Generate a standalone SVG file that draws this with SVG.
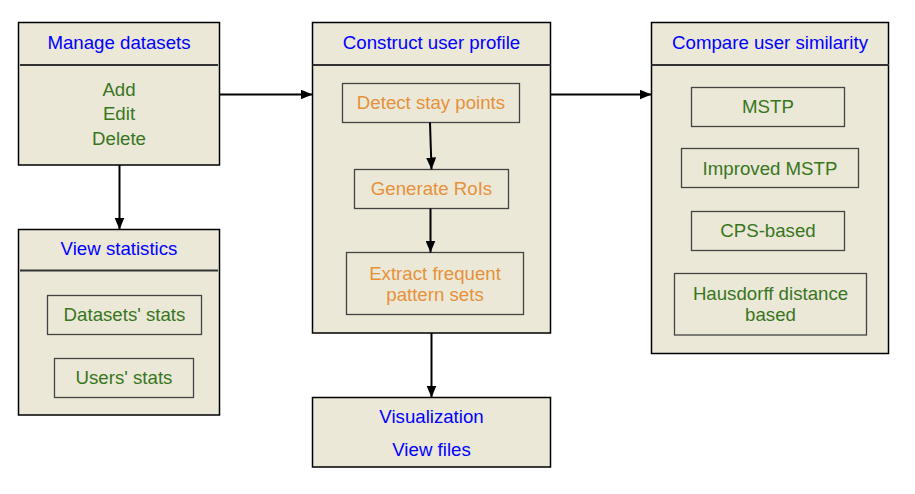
<svg xmlns="http://www.w3.org/2000/svg" width="915" height="494" viewBox="0 0 915 494">
<defs>
<marker id="ah" markerWidth="12" markerHeight="10" refX="12" refY="5" orient="auto" markerUnits="userSpaceOnUse">
<path d="M0,0 L12,5 L0,10 Z" fill="#000"/>
</marker>
<style>
.box{fill:#ebe8d8;stroke:#000;stroke-width:1.5}
.sub{fill:none;stroke:#434343;stroke-width:1.3}
.div{stroke:#333;stroke-width:2}
text{font-family:"Liberation Sans",Arial,sans-serif;font-size:18.67px;text-anchor:middle}
.b{fill:#0000ff}
.g{fill:#38761d}
.o{fill:#e69138}
.c{stroke:#000;stroke-width:2;fill:none;marker-end:url(#ah)}
</style>
</defs>
<rect width="915" height="494" fill="#fff"/>
<g id="manage">
<rect class="box" x="18.5" y="22.5" width="201" height="142.5"/>
<line class="div" x1="20" y1="65" x2="218" y2="65"/>
<text class="b" x="119" y="49">Manage datasets</text>
<text class="g" x="119" y="95.5">Add</text>
<text class="g" x="119" y="120">Edit</text>
<text class="g" x="119" y="144.5">Delete</text>
</g>
<g id="viewstats">
<rect class="box" x="18.5" y="229.5" width="201" height="185.5"/>
<line class="div" x1="20" y1="270.5" x2="218" y2="270.5"/>
<text class="b" x="119" y="255">View statistics</text>
<g id="datasets-stats">
<rect class="sub" x="47.5" y="295.5" width="154" height="39"/>
<text class="g" x="124.5" y="321">Datasets' stats</text>
</g>
<g id="users-stats">
<rect class="sub" x="54.5" y="358.5" width="139" height="39"/>
<text class="g" x="124" y="384">Users' stats</text>
</g>
</g>
<g id="construct">
<rect class="box" x="312.5" y="22.5" width="238" height="310.5"/>
<line class="div" x1="312.5" y1="65" x2="550.5" y2="65"/>
<text class="b" x="431.5" y="49">Construct user profile</text>
<g id="detect">
<rect class="sub" x="342.5" y="83.5" width="177" height="39"/>
<text class="o" x="431" y="109">Detect stay points</text>
</g>
<g id="generate">
<rect class="sub" x="354.5" y="169.5" width="154" height="39"/>
<text class="o" x="431.5" y="195">Generate RoIs</text>
</g>
<g id="extract">
<rect class="sub" x="346.5" y="252.5" width="177" height="62"/>
<text class="o" x="435" y="279.5">Extract frequent</text>
<text class="o" x="435" y="300.5">pattern sets</text>
</g>
</g>
<g id="compare">
<rect class="box" x="651.5" y="22.5" width="237" height="331"/>
<line class="div" x1="651.5" y1="65" x2="889" y2="65"/>
<text class="b" x="770" y="49">Compare user similarity</text>
<g id="mstp">
<rect class="sub" x="691.5" y="87.5" width="153" height="39"/>
<text class="g" x="768" y="113">MSTP</text>
</g>
<g id="improved">
<rect class="sub" x="681.5" y="148.5" width="177" height="39"/>
<text class="g" x="770" y="175">Improved MSTP</text>
</g>
<g id="cps">
<rect class="sub" x="691.5" y="211.5" width="153" height="39"/>
<text class="g" x="768" y="237">CPS-based</text>
</g>
<g id="hausdorff">
<rect class="sub" x="674.5" y="273.5" width="192" height="61.5"/>
<text class="g" x="770.5" y="299.5">Hausdorff distance</text>
<text class="g" x="770.5" y="320.5">based</text>
</g>
</g>
<g id="visualization">
<rect class="box" x="312.5" y="397.5" width="238" height="69.5"/>
<text class="b" x="431.5" y="423">Visualization</text>
<text class="b" x="431.5" y="455.5">View files</text>
</g>
<g id="connectors">
<line class="c" x1="219.5" y1="94.5" x2="312.5" y2="94.5"/>
<line class="c" x1="550.5" y1="94.5" x2="651.5" y2="94.5"/>
<line class="c" x1="119.5" y1="165" x2="119.5" y2="229.5"/>
<line class="c" x1="431.5" y1="333" x2="431.5" y2="397.5"/>
<line class="c" x1="430" y1="122.5" x2="431.5" y2="169.5"/>
<line class="c" x1="430.5" y1="208.5" x2="430.5" y2="252.5"/>
</g>
</svg>
